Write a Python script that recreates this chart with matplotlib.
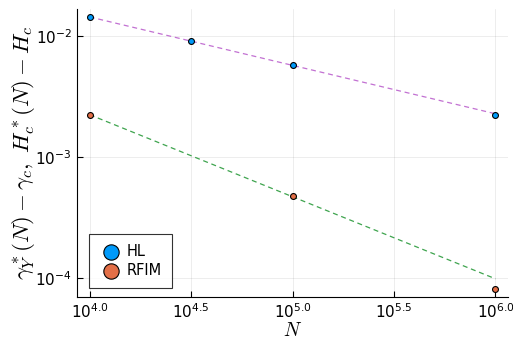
import numpy as np
import matplotlib.pyplot as plt
from matplotlib.ticker import FixedLocator, FuncFormatter, NullLocator

plt.rcParams["mathtext.fontset"] = "cm"
plt.rcParams["font.family"] = ["DejaVu Sans"]

# measured points
N_hl = [1e4, 10**4.5, 1e5, 1e6]
gap_hl = [0.01436, 0.0091, 0.00575, 0.00222]
N_rfim = [1e4, 1e5, 1e6]
gap_rfim = [0.00222, 0.000478, 0.0000816]

# fitted power laws (end points)
N_fit = [1e4, 1e6]
fit_hl = [0.01436, 0.00228]
fit_rfim = [0.00224, 0.000099]

x_ticks = [4.0, 4.5, 5.0, 5.5, 6.0]
y_ticks = [-4, -3, -2]

fig = plt.figure(figsize=(5.13, 3.39), dpi=100)
ax = fig.add_axes([0.1507, 0.1248, 0.8393, 0.8487])

ax.plot(N_fit, fit_rfim, ls=(0, (4, 3)), color="#3EA44E", lw=0.9, zorder=2)
ax.plot(N_fit, fit_hl, ls=(0, (4, 3)), color="#C271D2", lw=0.9, zorder=2)
ax.scatter(N_hl, gap_hl, s=18, color="#009AFA", edgecolor="black", lw=0.8,
           zorder=3, label="HL")
ax.scatter(N_rfim, gap_rfim, s=18, color="#E36F47", edgecolor="black", lw=0.8,
           zorder=3, label="RFIM")

ax.set_xscale("log")
ax.set_yscale("log")
ax.set_xlim(10**3.939, 10**6.061)
ax.set_ylim(10**-4.152, 10**-1.777)

ax.xaxis.set_major_locator(FixedLocator([10**t for t in x_ticks]))
ax.xaxis.set_minor_locator(NullLocator())
ax.yaxis.set_major_locator(FixedLocator([10.0**t for t in y_ticks]))
ax.yaxis.set_minor_locator(NullLocator())
ax.xaxis.set_major_formatter(FuncFormatter(
    lambda v, p: r"$\mathregular{10^{%.1f}}$" % np.log10(v)))
ax.yaxis.set_major_formatter(FuncFormatter(
    lambda v, p: r"$\mathregular{10^{%d}}$" % round(np.log10(v))))

ax.tick_params(direction="in", length=4, width=0.8, labelsize=11, pad=4)
ax.grid(True, color="black", alpha=0.1, lw=0.5)
ax.set_axisbelow(True)
for s in ["top", "right"]:
    ax.spines[s].set_visible(False)

ax.set_xlabel(r"$N$", fontsize=14, labelpad=0)
ax.set_ylabel(r"$\gamma^*_Y(N) - \gamma_c,\ H^*_c(N) - H_c$", fontsize=16.5, labelpad=-1)

leg = ax.legend(loc="lower left", bbox_to_anchor=(0.02, 0.02), fontsize=10.5,
                fancybox=False, edgecolor="black", markerscale=2.6,
                handletextpad=0.2, borderpad=0.7, labelspacing=0.25,
                handlelength=1.7, borderaxespad=0.2)
leg.get_frame().set_linewidth(0.8)

fig.savefig("out.png", dpi=100)
